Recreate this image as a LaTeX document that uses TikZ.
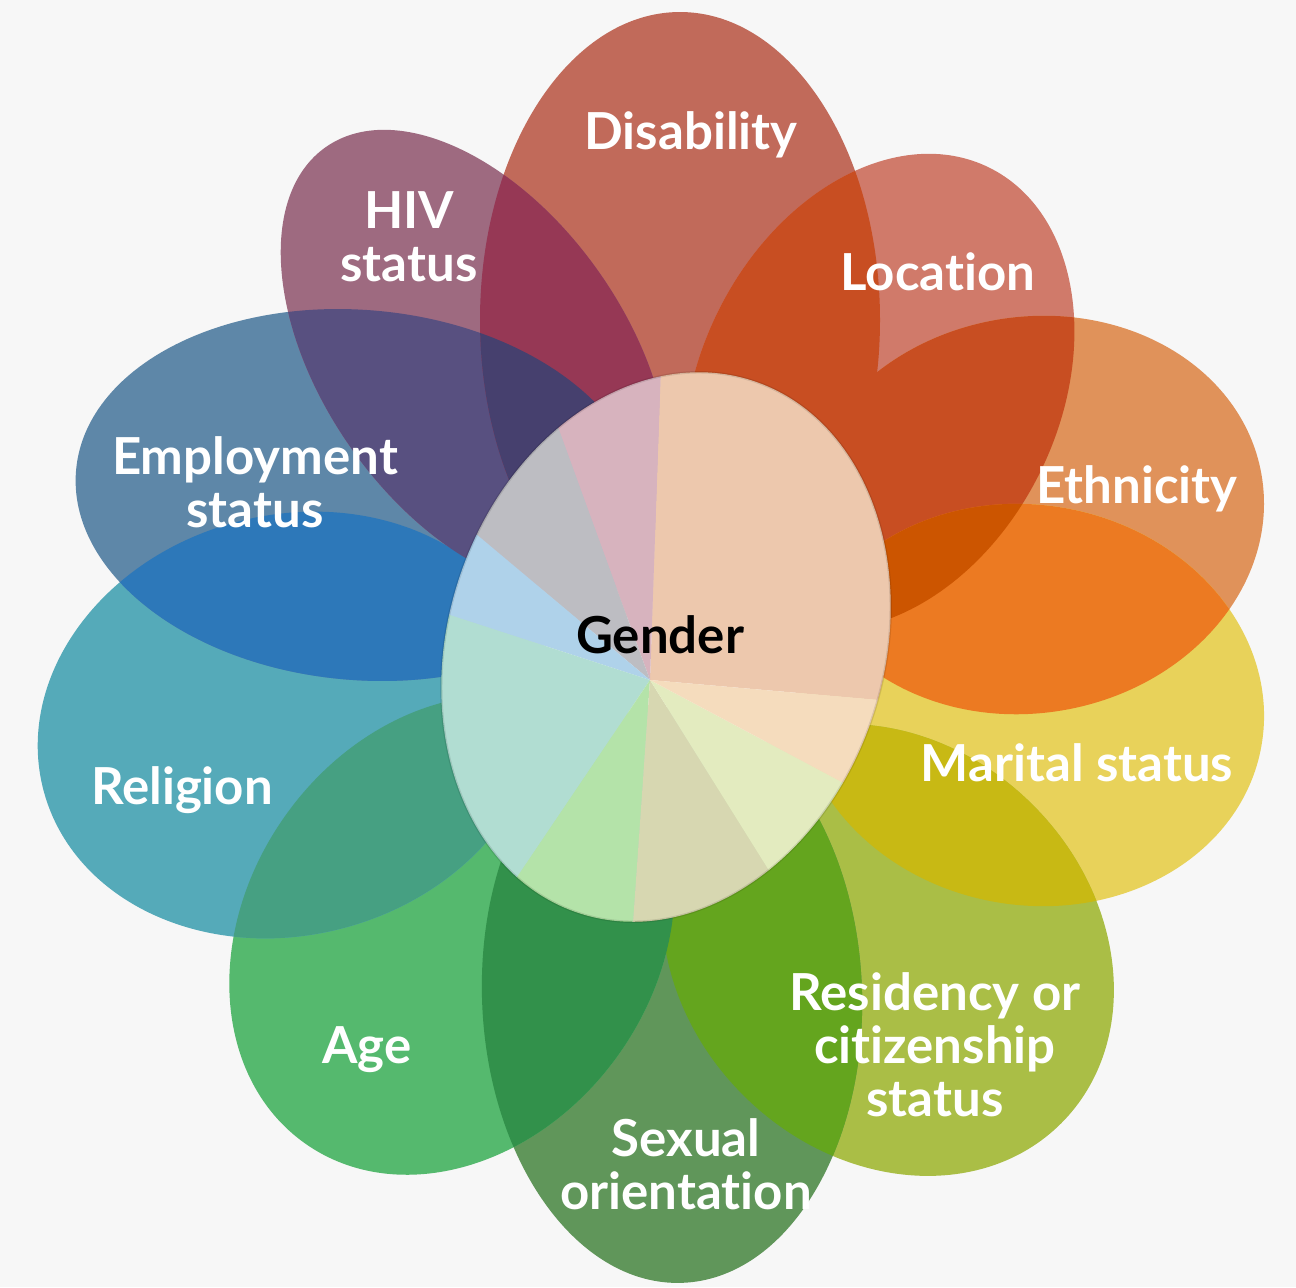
\documentclass[tikz,border=0pt]{standalone}
\usepackage{fontspec}
\setmainfont{Lato}[Ligatures=NoCommon]

\definecolor{paper}{HTML}{F7F7F7}
% petal colours
\definecolor{disC}{HTML}{C16A5A}
\definecolor{locC}{HTML}{D07A6A}
\definecolor{ethC}{HTML}{E0925A}
\definecolor{marC}{HTML}{E8D25A}
\definecolor{resC}{HTML}{AABE46}
\definecolor{sexC}{HTML}{60965A}
\definecolor{ageC}{HTML}{55B96E}
\definecolor{relC}{HTML}{55AAB9}
\definecolor{empC}{HTML}{5E87A8}
\definecolor{hivC}{HTML}{9E6A80}
% overlap colours
\definecolor{disloc}{HTML}{C84E22}
\definecolor{loceth}{HTML}{C84E22}
\definecolor{ethmar}{HTML}{EC7A22}
\definecolor{marres}{HTML}{C8B914}
\definecolor{ressex}{HTML}{64A51E}
\definecolor{sexage}{HTML}{32914B}
\definecolor{agerel}{HTML}{46A082}
\definecolor{relemp}{HTML}{2D78B9}
\definecolor{emphiv}{HTML}{585080}
\definecolor{hivdis}{HTML}{963855}
\definecolor{empdis}{HTML}{46406E}
\definecolor{locmar}{HTML}{CC5500}
% colours seen through the centre
\definecolor{midPeach}{HTML}{D0702A}
\definecolor{midGrey}{HTML}{545461}
\definecolor{midBlue}{HTML}{2D89CA}
\definecolor{midTeal}{HTML}{34A889}
\definecolor{midGreen}{HTML}{3AB71F}
\definecolor{midOlive}{HTML}{969634}
\definecolor{midLime}{HTML}{B8CD59}
\definecolor{midSand}{HTML}{E5A354}

% petals: centre, angle, radial and side radius
\newcommand{\disPetal}{[shift={(680,320)}, rotate=90] (0,0) ellipse [x radius=308, y radius=200]}
\newcommand{\locPetal}{[shift={(879,392)}, rotate=64] (0,0) ellipse [x radius=250, y radius=180]}
\newcommand{\ethPetal}{[shift={(1030,515)}, rotate=10] (0,0) ellipse [x radius=235, y radius=198]}
\newcommand{\marPetal}{[shift={(1030,705)}, rotate=-10] (0,0) ellipse [x radius=235, y radius=200]}
\newcommand{\resPetal}{[shift={(888,950)}, rotate=-45] (0,0) ellipse [x radius=245, y radius=205]}
\newcommand{\sexPetal}{[shift={(672,995)}, rotate=-88] (0,0) ellipse [x radius=288, y radius=190]}
\newcommand{\agePetal}{[shift={(452,935)}, rotate=-125] (0,0) ellipse [x radius=255, y radius=205]}
\newcommand{\relPetal}{[shift={(290,725)}, rotate=-165] (0,0) ellipse [x radius=255, y radius=210]}
\newcommand{\empPetal}{[shift={(360,495)}, rotate=175] (0,0) ellipse [x radius=285, y radius=185]}
\newcommand{\hivPetal}{[shift={(475,360)}, rotate=125] (0,0) ellipse [x radius=260, y radius=152]}
\newcommand{\genPetal}{[shift={(666,647)}, rotate=72] (0,0) ellipse [x radius=280, y radius=218]}

\begin{document}
\begin{tikzpicture}[x=0.5pt, y=-0.5pt,
    lbl/.style={text=white, font=\bfseries\fontsize{25.5}{26.5}\selectfont, align=center, inner sep=0pt},
    core/.style={fill=white, fill opacity=0.62, draw=black, draw opacity=0.1, line width=1.2}
]

\fill[paper] (0,0) rectangle (1296,1287);

% petals
\fill[disC] \disPetal;
\fill[locC] \locPetal;
\fill[ethC] \ethPetal;
\fill[marC] \marPetal;
\fill[resC] \resPetal;
\fill[sexC] \sexPetal;
\fill[ageC] \agePetal;
\fill[relC] \relPetal;
\fill[empC] \empPetal;
\fill[hivC] \hivPetal;

% overlaps of neighbours
\begin{scope} \clip \disPetal; \fill[disloc] \locPetal; \end{scope}
\begin{scope} \clip \locPetal; \fill[loceth] \ethPetal; \end{scope}
\begin{scope} \clip \ethPetal; \fill[ethmar] \marPetal; \end{scope}
\begin{scope} \clip \marPetal; \fill[marres] \resPetal; \end{scope}
\begin{scope} \clip \resPetal; \fill[ressex] \sexPetal; \end{scope}
\begin{scope} \clip \sexPetal; \fill[sexage] \agePetal; \end{scope}
\begin{scope} \clip \agePetal; \fill[agerel] \relPetal; \end{scope}
\begin{scope} \clip \relPetal; \fill[relemp] \empPetal; \end{scope}
\begin{scope} \clip \empPetal; \fill[emphiv] \hivPetal; \end{scope}
\begin{scope} \clip \hivPetal; \fill[hivdis] \disPetal; \end{scope}
\begin{scope} \clip \empPetal; \fill[empdis] \disPetal; \end{scope}
\begin{scope} \clip \locPetal; \clip \ethPetal; \fill[locmar] \marPetal; \end{scope}

% what shows through the centre
\begin{scope}
  \clip \genPetal;
  \fill[midPeach] (650,680) -- ++(-88:450) arc[start angle=-88, end angle=5, radius=450] -- cycle;
  \fill[hivdis] (650,680) -- ++(-110:450) arc[start angle=-110, end angle=-88, radius=450] -- cycle;
  \fill[midGrey] (650,680) -- ++(-140:450) arc[start angle=-140, end angle=-110, radius=450] -- cycle;
  \fill[midBlue] (650,680) -- ++(-162:450) arc[start angle=-162, end angle=-140, radius=450] -- cycle;
  \fill[midTeal] (650,680) -- ++(-236:450) arc[start angle=-236, end angle=-162, radius=450] -- cycle;
  \fill[midGreen] (650,680) -- ++(-266:450) arc[start angle=-266, end angle=-236, radius=450] -- cycle;
  \fill[midOlive] (650,680) -- ++(-302:450) arc[start angle=-302, end angle=-266, radius=450] -- cycle;
  \fill[midLime] (650,680) -- ++(-332:450) arc[start angle=-332, end angle=-302, radius=450] -- cycle;
  \fill[midSand] (650,680) -- ++(-355:450) arc[start angle=-355, end angle=-332, radius=450] -- cycle;
\end{scope}

% centre
\path[core] \genPetal;

% labels
\node[lbl, anchor=base] (disLbl) at (691,149) {Disability};
\node[lbl] (hivLbl) at (409,237) {HIV\\status};
\node[lbl, anchor=base] (locLbl) at (938,290) {Location};
\node[lbl, anchor=base] (ethLbl) at (1137,503) {Ethnicity};
\node[lbl, anchor=base] (marLbl) at (1077,781) {Marital status};
\node[lbl] (resLbl) at (935,1045) {Residency or\\citizenship\\status};
\node[lbl] (sexLbl) at (686,1164) {Sexual\\orientation};
\node[lbl, anchor=base] (ageLbl) at (367,1063) {Age};
\node[lbl, anchor=base] (relLbl) at (182,804) {Religion};
\node[lbl] (empLbl) at (255,482) {Employment\\status};
\node[lbl, anchor=base, text=black] (genLbl) at (660,653) {Gender};

\end{tikzpicture}
\end{document}
